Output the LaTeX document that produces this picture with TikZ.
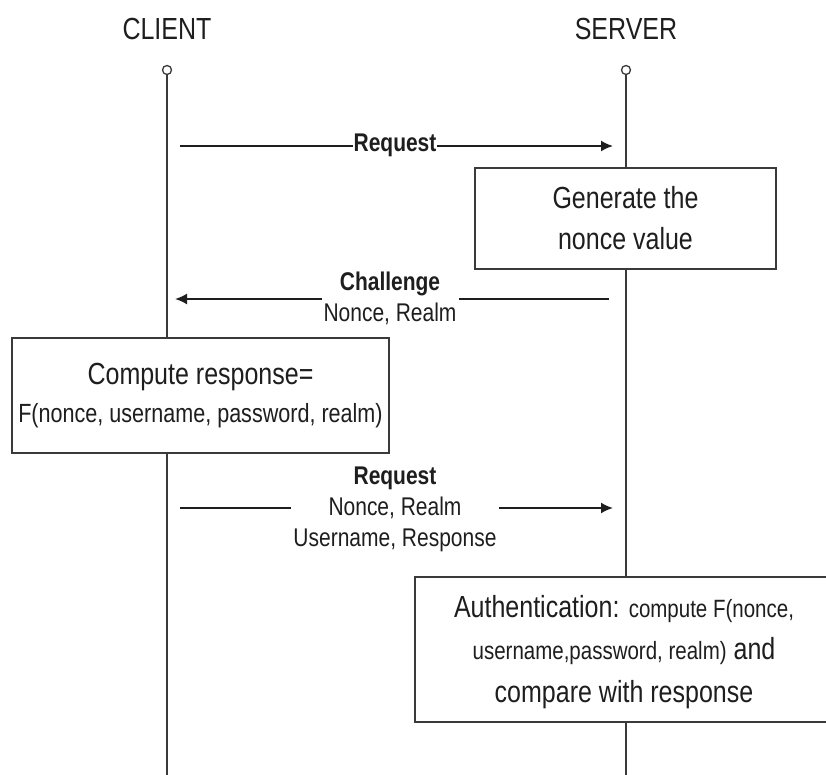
\documentclass[tikz,border=0pt]{standalone}
\usepackage{fontspec}
\setmainfont{Liberation Sans}[FakeStretch=0.82]
\usetikzlibrary{arrows.meta}
\definecolor{ink}{HTML}{1E1E1E}
\definecolor{rule}{HTML}{3A3A3A}
\tikzset{
  big/.style={font=\fontsize{30.5}{41}\selectfont},
  small/.style={font=\fontsize{25.6}{31}\selectfont},
  actor/.style={big, text=ink, anchor=base, inner sep=0pt},
  dot/.style={circle, draw=rule, line width=1.3pt, fill=white, minimum size=9pt, inner sep=0pt},
  lifeline/.style={draw=rule, line width=1.8pt},
  msg/.style={draw=ink, line width=1.8pt, -{Latex[length=12pt,width=11pt]}},
  msglabel/.style={small, text=ink, align=center, fill=white, inner sep=2pt},
  procbox/.style={draw=rule, line width=2.6pt, fill=white, inner sep=0pt, text=ink, align=center},
}
\begin{document}
\begin{tikzpicture}[x=1pt, y=-1pt]
  \useasboundingbox[fill=white] (0,0) rectangle (826,775);
  \clip (0,0) rectangle (826,775);

  % participants
  \node[actor] (client) at (167,40) {CLIENT};
  \node[actor] (server) at (626,40) {SERVER};
  \node[dot] (cdot) at (167,70) {};
  \node[dot] (sdot) at (626,70) {};
  \coordinate (cend) at (167,776);
  \coordinate (send) at (626,776);
  \draw[lifeline] (cdot) -- (cend);
  \draw[lifeline] (sdot) -- (send);

  % first request
  \coordinate (r1a) at (180,146);
  \coordinate (r1b) at (613,146);
  \draw[msg] (r1a) -- (r1b);
  \node[msglabel, inner sep=1pt, font=\fontsize{25.6}{31}\selectfont\bfseries] (req1) at (395,145) {Request};

  % nonce generation on the server
  \node[procbox, big, minimum width=301pt, minimum height=101pt] (gen) at (625.5,218.5)
    {Generate the\\nonce value};

  % challenge back to the client
  \coordinate (cha) at (609,299);
  \coordinate (chb) at (175,299);
  \draw[msg] (cha) -- (chb);
  \node[msglabel] (chal) at (390,298) {\textbf{Challenge}\\Nonce, Realm};

  % response computed by the client
  \node[procbox, minimum width=377pt, minimum height=115pt, font=\fontsize{30.5}{38}\selectfont] (comp) at (200.5,395.5)
    {Compute response=\\{\fontsize{26.3}{38}\selectfont F(nonce, username, password, realm)}};

  % second request
  \coordinate (r2a) at (180,508);
  \coordinate (r2b) at (613,508);
  \draw[msg] (r2a) -- (r2b);
  \node[msglabel] (req2) at (395,509) {\textbf{Request}\\Nonce, Realm\\Username, Response};

  % verification on the server
  \node[procbox, minimum width=440pt, minimum height=145pt] (auth) at (635,649.5) {};
  \node[text=ink, align=center, inner sep=0pt, font=\fontsize{30.5}{42.5}\selectfont] (authtext) at (624,652)
    {Authentication: {\fontsize{25}{42.5}\selectfont compute F(nonce,}\\
     {\fontsize{25}{42.5}\selectfont username,password, realm)} and\\
     compare with response};
\end{tikzpicture}
\end{document}
